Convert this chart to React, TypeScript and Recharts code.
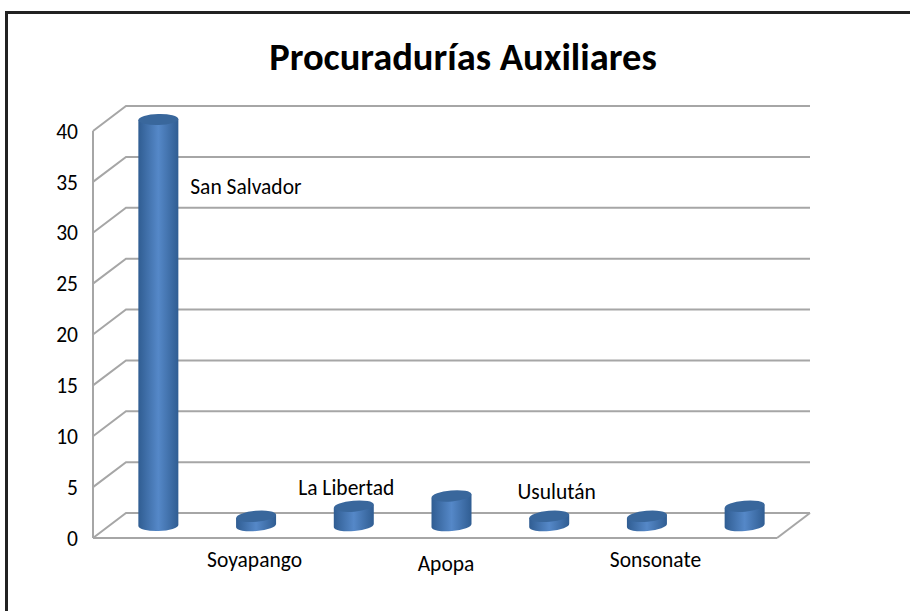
import React from "react";
import { BarChart, Bar, XAxis, YAxis, CartesianGrid } from "recharts";

const categories = ["San Salvador", "Soyapango", "La Libertad", "Apopa", "Usulután", "Sonsonate", ""];
const values = [40, 1, 2, 3, 1, 1, 2];
const yTicks = [0, 5, 10, 15, 20, 25, 30, 35, 40];
const rows = categories.map((name, i) => ({ key: i, name, value: values[i] }));

const DX = 33;
const DY = 25;
const GREY = "#a6a6a6";
const FONT = "Carlito, Lato, sans-serif";
const labelOffsets = [
  { dx: 88, y: 187 },
  { dx: -1, y: 560 },
  { dx: -7, y: 488 },
  { dx: -5, y: 564 },
  { dx: 8, y: 492 },
  { dx: 9, y: 560 },
  { dx: 0, y: 560 },
];

function WallLine(props: any) {
  const { x1, x2, y1 } = props;
  const yb = y1 - DY;
  return (
    <g fill="none" stroke={GREY} strokeWidth={2}>
      <path d={`M${x1} ${y1}L${x1 + DX} ${yb}L${x2 + DX} ${yb}`} />
      {y1 > 500 ? <path d={`M${x2} ${y1}L${x2 + DX} ${yb}`} /> : null}
    </g>
  );
}

function Cylinder(props: any) {
  const { x, y, width, height, index } = props;
  const cx = x + width / 2 + DX / 2;
  const top = y - DY / 2 + 1;
  const bottom = y + height - DY / 2;
  const rx = 20;
  const ry = 5.5;
  const tilt = index === 0 ? -1.5 : -5;
  const dyEdge = rx * Math.tan((tilt * Math.PI) / 180);
  return (
    <g>
      <path
        d={`M${cx - rx} ${top - dyEdge}L${cx + rx} ${top + dyEdge}L${cx + rx} ${bottom + dyEdge}A${rx} ${ry} ${tilt} 0 1 ${cx - rx} ${bottom - dyEdge}Z`}
        fill="url(#cyl)"
      />
      <ellipse cx={cx} cy={top} rx={rx} ry={ry} fill="#39679c" transform={`rotate(${tilt} ${cx} ${top})`} />
    </g>
  );
}

function CatTick(props: any) {
  const { x, index } = props;
  const o = labelOffsets[index] ?? { dx: 0, y: 560 };
  return (
    <text x={x + o.dx + 16} y={o.y} textAnchor="middle" dominantBaseline="central" fontFamily={FONT} fontSize={21.5} fill="#000">
      {categories[index]}
    </text>
  );
}

export default function App() {
  return (
    <div style={{ position: "absolute", left: 0, top: 0, width: 910, height: 611, background: "#fff", overflow: "hidden" }}>
      <div style={{ position: "absolute", left: 5, top: 11, width: 905, height: 2.5, background: "#222" }} />
      <div style={{ position: "absolute", left: 5, top: 11, width: 2.5, height: 600, background: "#222" }} />
      <div style={{ position: "absolute", left: 0, top: 32, width: 926, textAlign: "center", fontFamily: FONT, fontWeight: 700, fontSize: 38.5, lineHeight: "50px", color: "#000" }}>
        Procuradurías Auxiliares
      </div>
      <BarChart
        width={910}
        height={611}
        data={rows}
        margin={{ top: 131, right: 133, bottom: 43, left: 0 }}
        barCategoryGap="59%"
        style={{ position: "absolute", left: 0, top: 0 }}
      >
        <defs>
          <linearGradient id="cyl" x1="0" y1="0" x2="1" y2="0">
            <stop offset="0" stopColor="#305d92" />
            <stop offset="0.5" stopColor="#5588c8" />
            <stop offset="1" stopColor="#305d92" />
          </linearGradient>
        </defs>
        <CartesianGrid vertical={false} horizontal={(p: any) => <WallLine key={p.index} {...p} />} />
        <XAxis dataKey="key" tick={<CatTick />} axisLine={{ stroke: GREY, strokeWidth: 2 }} tickLine={false} interval={0} />
        <YAxis
          domain={[0, 40]}
          ticks={yTicks}
          width={93}
          axisLine={{ stroke: GREY, strokeWidth: 2 }}
          tickLine={false}
          tickMargin={9}
          tick={{ fontFamily: FONT, fontSize: 21.5, fill: "#000" }}
        />
        <Bar dataKey="value" shape={<Cylinder />} isAnimationActive={false} />
      </BarChart>
    </div>
  );
}
